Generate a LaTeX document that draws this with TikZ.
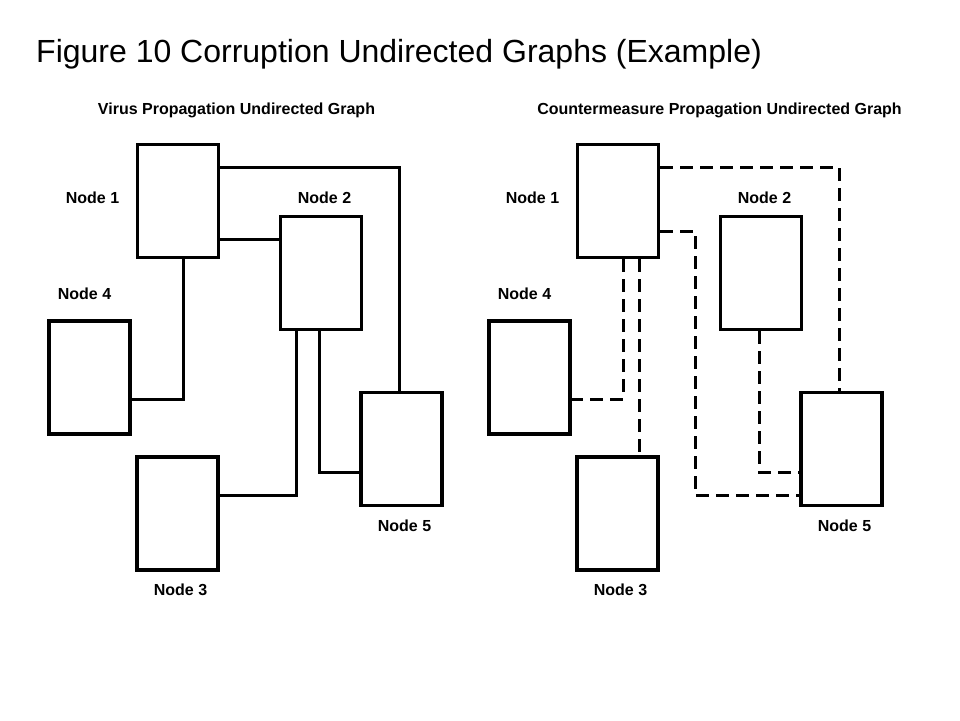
\documentclass[tikz,border=0pt]{standalone}
\usepackage{fontspec}
\setmainfont{Liberation Sans}
\begin{document}
\begin{tikzpicture}[x=1pt,y=-1pt,
  box/.style={draw,line width=3.5pt,minimum width=81pt,minimum height=113pt,inner sep=0pt,fill=white},
  lbl/.style={font=\fontsize{16}{19}\selectfont\bfseries,inner sep=0pt},
  conn/.style={line width=3pt},
  dconn/.style={line width=3pt,dash pattern=on 13pt off 7pt}]
\path[fill=white] (0,0) rectangle (960,720);
\node[anchor=base west,inner sep=0pt,font=\fontsize{32}{38}\selectfont] (title) at (36,62) {Figure 10 Corruption Undirected Graphs (Example)};
\node[lbl] (subL) at (236.5,110) {Virus Propagation Undirected Graph};
\node[lbl] (subR) at (719.5,110) {Countermeasure Propagation Undirected Graph};
% helper coordinates
\coordinate (h167) at (0,167);
\coordinate (h239) at (0,239);
\coordinate (h231) at (0,231);
\coordinate (h399) at (0,399);
\coordinate (h495) at (0,495);
\coordinate (h472) at (0,472);
% left graph
\node[box] (L1) at (178,201) {};
\node[box] (L2) at (321,273) {};
\node[box] (L4) at (89.5,377.5) {};
\node[box] (L3) at (177.5,513.5) {};
\node[box] (L5) at (401.5,449) {};
\node[lbl] (tL1) at (92.5,198) {Node 1};
\node[lbl] (tL2) at (324.5,198) {Node 2};
\node[lbl] (tL4) at (84.5,294) {Node 4};
\node[lbl] (tL5) at (404.5,526) {Node 5};
\node[lbl] (tL3) at (180.5,590) {Node 3};
\coordinate (v399) at (399,0);
\coordinate (v183) at (183,0);
\coordinate (v296) at (296,0);
\coordinate (v319) at (319,0);
\draw[conn] (L1.east |- h167) -| (L5.north -| v399);
\draw[conn] (L1.east |- h239) -- (L2.west |- h239);
\draw[conn] (L1.south -| v183) |- (L4.east |- h399);
\draw[conn] (L2.south -| v296) |- (L3.east |- h495);
\draw[conn] (L2.south -| v319) |- (L5.west |- h472);
% right graph
\node[box] (R1) at (618,201) {};
\node[box] (R2) at (761,273) {};
\node[box] (R4) at (529.5,377.5) {};
\node[box] (R3) at (617.5,513.5) {};
\node[box] (R5) at (841.5,449) {};
\node[lbl] (tR1) at (532.5,198) {Node 1};
\node[lbl] (tR2) at (764.5,198) {Node 2};
\node[lbl] (tR4) at (524.5,294) {Node 4};
\node[lbl] (tR5) at (844.5,526) {Node 5};
\node[lbl] (tR3) at (620.5,590) {Node 3};
\coordinate (v839) at (839,0);
\coordinate (v695) at (695,0);
\coordinate (v623) at (623,0);
\coordinate (v639) at (639,0);
\coordinate (v759) at (759,0);
\coordinate (c695) at (695,495);
\draw[dconn] (R1.east |- h167) -| (R5.north -| v839);
\draw[dconn] (R1.east |- h231) -| (c695) -- (R5.west |- h495);
\draw[dconn] (R1.south -| v623) |- (R4.east |- h399);
\draw[dconn] (R1.south -| v639) -- (R3.north -| v639);
\draw[dconn] (R2.south -| v759) |- (R5.west |- h472);
\end{tikzpicture}
\end{document}
